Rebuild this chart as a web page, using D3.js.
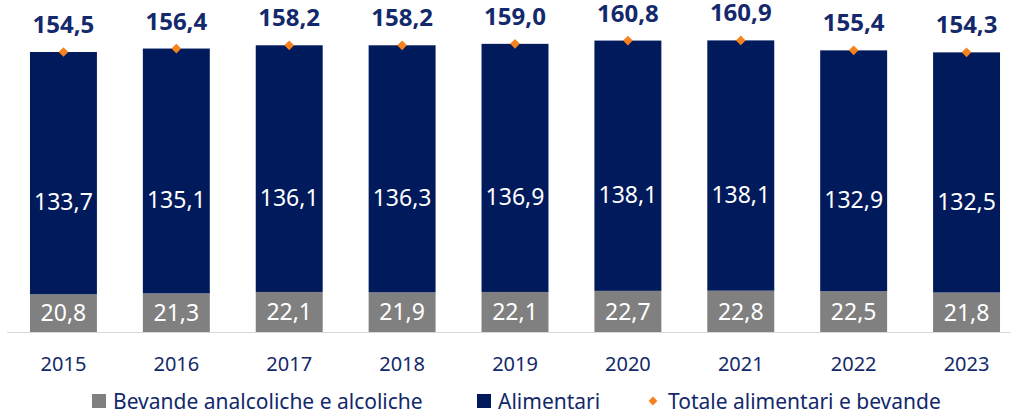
<!DOCTYPE html>
<html>
<head>
<meta charset="utf-8">
<script src="https://cdn.jsdelivr.net/npm/d3@7"></script>
<style>
  body { margin: 0; background: #fff; }
  svg { display: block; font-family: "Noto Sans", sans-serif; }
</style>
</head>
<body>
<svg></svg>
<script>
let width = 1011
let height = 411

let years = ['2015', '2016', '2017', '2018', '2019', '2020', '2021', '2022', '2023']
let bevande = [20.8, 21.3, 22.1, 21.9, 22.1, 22.7, 22.8, 22.5, 21.8]
let alimentari = [133.7, 135.1, 136.1, 136.3, 136.9, 138.1, 138.1, 132.9, 132.5]
let totale = [154.5, 156.4, 158.2, 158.2, 159.0, 160.8, 160.9, 155.4, 154.3]

let navy = '#001a5c'
let grey = '#808080'
let orange = '#f5821f'
let textNavy = '#13296b'

let fmt = v => v.toFixed(1).replace('.', ',')

let svg = d3.select('svg')
    .attr('width', width)
    .attr('height', height)

let x = d3.scaleBand()
    .domain(years)
    .range([7, 1023])
    .paddingInner(0.407)
    .paddingOuter(0.2035)

let y = d3.scaleLinear()
    .domain([0, 154.5])
    .range([332, 52])

let rows = years.map((year, i) => ({
    year, bev: bevande[i], ali: alimentari[i], tot: totale[i]
}))

// bars
let g = svg.append('g')
g.selectAll('.bev').data(rows).enter()
    .append('rect')
    .attr('x', d => x(d.year))
    .attr('width', x.bandwidth())
    .attr('y', d => y(d.bev))
    .attr('height', d => y(0) - y(d.bev))
    .attr('fill', grey)
g.selectAll('.ali').data(rows).enter()
    .append('rect')
    .attr('x', d => x(d.year))
    .attr('width', x.bandwidth())
    .attr('y', d => y(d.bev + d.ali))
    .attr('height', d => y(d.bev) - y(d.bev + d.ali))
    .attr('fill', navy)

// axis line
svg.append('line')
    .attr('x1', 7).attr('x2', width)
    .attr('y1', y(0) + 0.5).attr('y2', y(0) + 0.5)
    .attr('stroke', '#d9d9d9')
    .attr('stroke-width', 1)

let axis = d3.axisBottom(x).tickSize(0).tickPadding(0)
let axisG = svg.append('g')
    .attr('transform', `translate(0,${y(0)})`)
    .call(axis)
axisG.select('.domain').remove()
axisG.selectAll('text')
    .attr('dy', null)
    .attr('y', 39)
    .attr('fill', textNavy)
    .style('font-size', '20px')
    .style('font-family', '"Noto Sans", sans-serif')

// inner labels
let cx = d => x(d.year) + x.bandwidth() / 2
g.selectAll('.bevLabel').data(rows).enter()
    .append('text')
    .attr('x', cx)
    .attr('y', d => (y(0) + y(d.bev)) / 2)
    .attr('dy', '0.36em')
    .attr('text-anchor', 'middle')
    .attr('fill', '#fff')
    .style('font-size', '23px')
    .text(d => fmt(d.bev))
g.selectAll('.aliLabel').data(rows).enter()
    .append('text')
    .attr('x', cx)
    .attr('y', d => (y(d.bev) + y(d.bev + d.ali)) / 2 + 29)
    .attr('dy', '0.36em')
    .attr('text-anchor', 'middle')
    .attr('fill', '#fff')
    .style('font-size', '23px')
    .text(d => fmt(d.ali))

// totals
let diamond = d3.symbol().type(d3.symbolDiamond2).size(60)
g.selectAll('.mark').data(rows).enter()
    .append('path')
    .attr('d', diamond)
    .attr('transform', d => `translate(${cx(d)},${y(d.tot)})`)
    .attr('fill', orange)
g.selectAll('.totLabel').data(rows).enter()
    .append('text')
    .attr('x', cx)
    .attr('y', d => y(d.tot) - 19)
    .attr('text-anchor', 'middle')
    .attr('fill', textNavy)
    .style('font-size', '24px')
    .style('font-weight', 'bold')
    .text(d => fmt(d.tot))

// legend
let legend = svg.append('g').attr('transform', 'translate(0,401)')
let items = [
    { label: 'Bevande analcoliche e alcoliche', color: grey, x: 92, tx: 113, shape: 'rect' },
    { label: 'Alimentari', color: navy, x: 477, tx: 498, shape: 'rect' },
    { label: 'Totale alimentari e bevande', color: orange, x: 653, tx: 668, shape: 'diamond' }
]
items.forEach(it => {
    if (it.shape === 'rect') {
        legend.append('rect')
            .attr('x', it.x).attr('y', -7)
            .attr('width', 14).attr('height', 14)
            .attr('fill', it.color)
    } else {
        legend.append('path')
            .attr('d', d3.symbol().type(d3.symbolDiamond2).size(50))
            .attr('transform', `translate(${it.x},0)`)
            .attr('fill', it.color)
    }
    legend.append('text')
        .attr('x', it.tx)
        .attr('y', 0)
        .attr('dy', '0.36em')
        .attr('fill', textNavy)
        .style('font-size', '21px')
        .text(it.label)
})
</script>
</body>
</html>
